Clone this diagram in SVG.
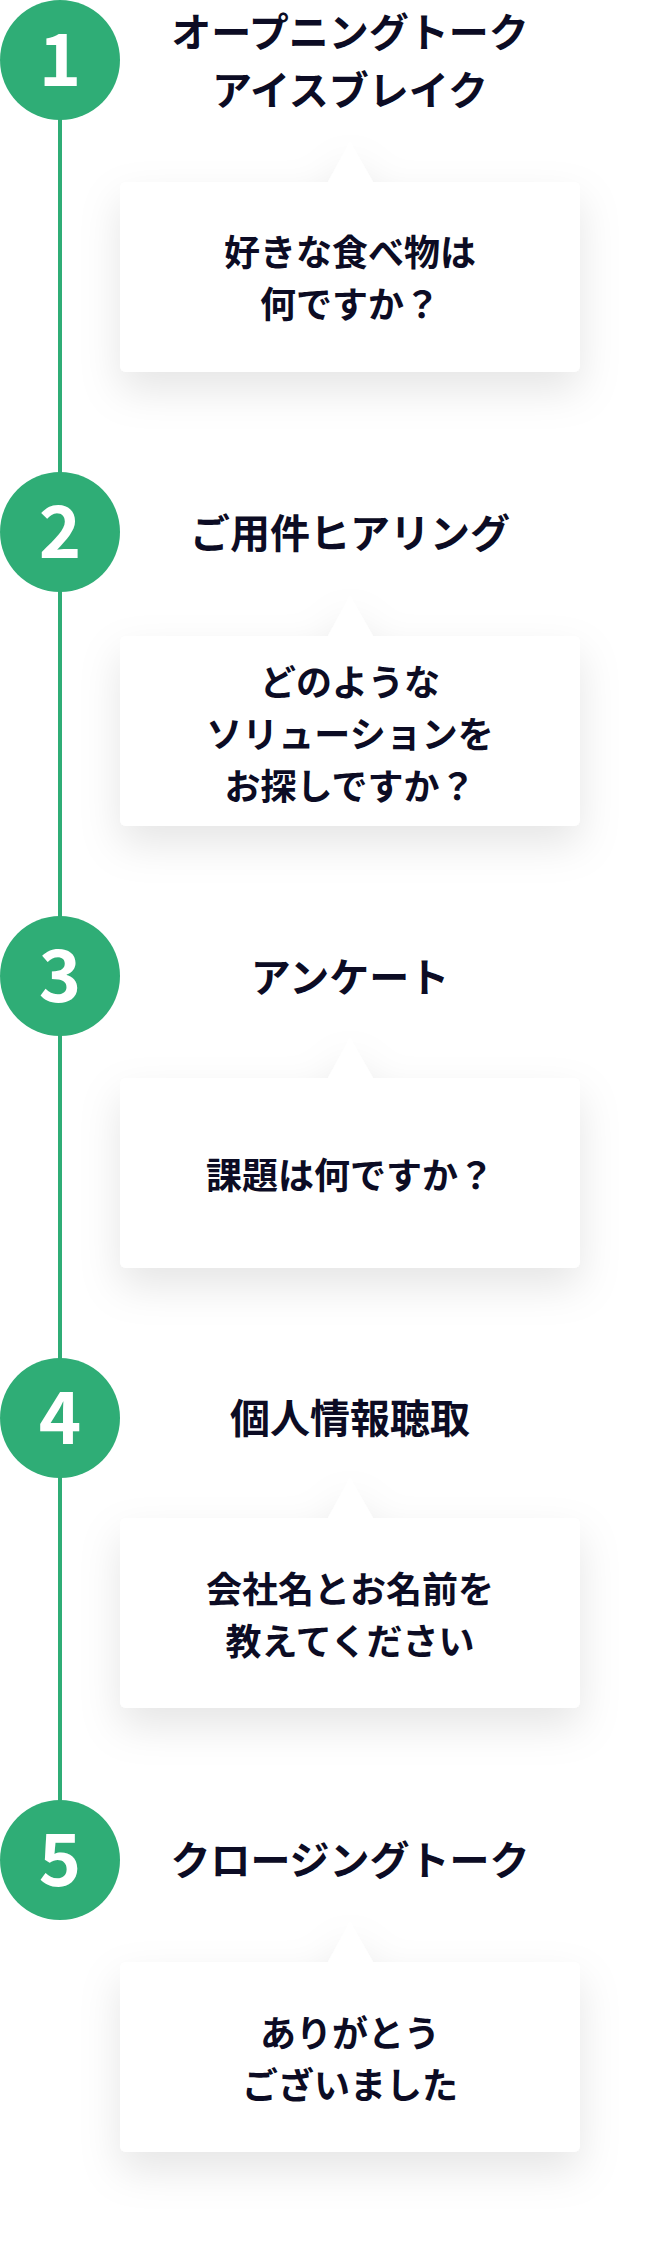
<svg xmlns="http://www.w3.org/2000/svg" width="654" height="2250" viewBox="0 0 654 2250">
  <style>
    .num { font-family: "Noto Sans CJK JP", "Noto Sans", sans-serif; font-weight: 700; font-size: 72px; fill: #ffffff; text-anchor: middle; }
    .title { font-family: "Noto Sans CJK JP", sans-serif; font-weight: 700; font-size: 40px; fill: #0c0c24; text-anchor: middle; }
    .body { font-family: "Noto Sans CJK JP", sans-serif; font-weight: 700; font-size: 36px; fill: #0c0c24; text-anchor: middle; }
    .circle { fill: #2fad76; }
    .bubble { fill: #ffffff; filter: url(#shadow); }
  </style>
  <defs>
    <filter id="shadow" x="-30%" y="-60%" width="160%" height="220%">
      <feDropShadow dx="0" dy="18" stdDeviation="20" flood-color="#000000" flood-opacity="0.1"/>
    </filter>
    <path id="bubbleShape" d="M126,0 H328 L350,-40 L373,0 H574 A6,6 0 0 1 580,6 V184 A6,6 0 0 1 574,190 H126 A6,6 0 0 1 120,184 V6 A6,6 0 0 1 126,0 Z"/>
  </defs>
  <rect x="0" y="0" width="654" height="2250" fill="#ffffff"/>

  <g id="connectors">
    <line x1="60" y1="60" x2="60" y2="1860" stroke="#2fad76" stroke-width="4"/>
  </g>

  <g id="step1">
    <circle class="circle" cx="60" cy="60" r="60"/>
    <text class="num" x="60" y="86">1</text>
    <text class="title" x="350" y="47">オープニングトーク</text>
    <text class="title" x="350" y="105">アイスブレイク</text>
  </g>
  <g id="bubble1">
    <use href="#bubbleShape" class="bubble" transform="translate(0,182)"/>
    <text class="body" x="350" y="266">好きな食べ物は</text>
    <text class="body" x="350" y="318">何ですか？</text>
  </g>

  <g id="step2">
    <circle class="circle" cx="60" cy="532" r="60"/>
    <text class="num" x="60" y="558">2</text>
    <text class="title" x="350" y="548">ご用件ヒアリング</text>
  </g>
  <g id="bubble2">
    <use href="#bubbleShape" class="bubble" transform="translate(0,636)"/>
    <text class="body" x="350" y="696">どのような</text>
    <text class="body" x="350" y="748">ソリューションを</text>
    <text class="body" x="350" y="800">お探しですか？</text>
  </g>

  <g id="step3">
    <circle class="circle" cx="60" cy="976" r="60"/>
    <text class="num" x="60" y="1002">3</text>
    <text class="title" x="350" y="992">アンケート</text>
  </g>
  <g id="bubble3">
    <use href="#bubbleShape" class="bubble" transform="translate(0,1078)"/>
    <text class="body" x="350" y="1189">課題は何ですか？</text>
  </g>

  <g id="step4">
    <circle class="circle" cx="60" cy="1418" r="60"/>
    <text class="num" x="60" y="1444">4</text>
    <text class="title" x="350" y="1433">個人情報聴取</text>
  </g>
  <g id="bubble4">
    <use href="#bubbleShape" class="bubble" transform="translate(0,1518)"/>
    <text class="body" x="350" y="1603">会社名とお名前を</text>
    <text class="body" x="350" y="1655">教えてください</text>
  </g>

  <g id="step5">
    <circle class="circle" cx="60" cy="1860" r="60"/>
    <text class="num" x="60" y="1886">5</text>
    <text class="title" x="350" y="1875">クロージングトーク</text>
  </g>
  <g id="bubble5">
    <use href="#bubbleShape" class="bubble" transform="translate(0,1962)"/>
    <text class="body" x="350" y="2047">ありがとう</text>
    <text class="body" x="350" y="2099">ございました</text>
  </g>
</svg>
